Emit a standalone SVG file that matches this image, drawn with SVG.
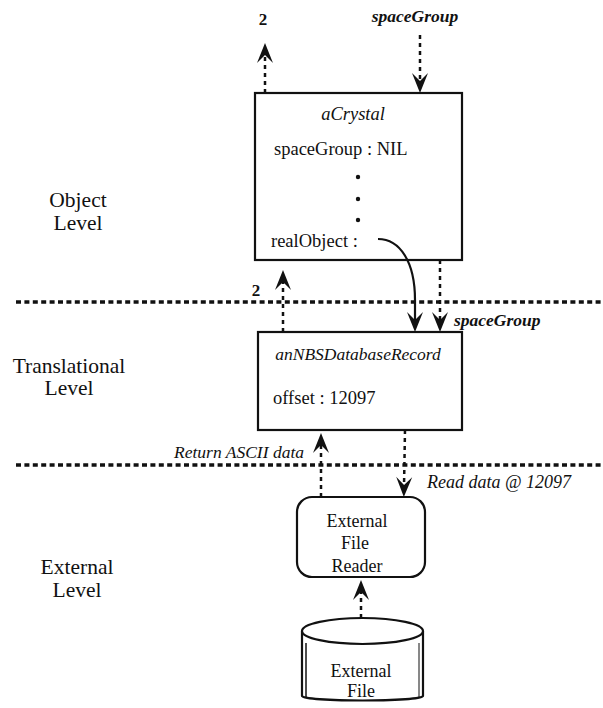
<svg xmlns="http://www.w3.org/2000/svg" width="603" height="708" viewBox="0 0 603 708">
<style>
text{font-family:"Liberation Serif","Times New Roman",serif;fill:#111}
.lvl{font-size:21.5px;text-anchor:middle}
.t{font-size:18.5px}
.it{font-style:italic}
.lab{font-size:17.5px;font-style:italic}
.bl{font-weight:bold}
.box{fill:#fff;stroke:#111;stroke-width:2.2}
.sep{stroke:#111;stroke-width:3.5;stroke-dasharray:5 3.4;fill:none}
.dash{stroke:#111;stroke-width:2.5;stroke-dasharray:4 4;fill:none;marker-end:url(#ah)}
.solid{stroke:#111;stroke-width:2.2;fill:none;marker-end:url(#ah)}
</style>
<defs>
<marker id="ah" viewBox="-21 -10 22 20" markerWidth="22" markerHeight="20" refX="-10" refY="0" orient="auto" markerUnits="userSpaceOnUse">
<path d="M0,0 L-20,-8 L-12,0 L-20,8 Z" fill="#111"/>
</marker>
</defs>
<rect width="603" height="708" fill="#fff"/>
<g id="levels">
<text class="lvl" x="78" y="207">Object</text>
<text class="lvl" x="78" y="230">Level</text>
<text class="lvl" x="69" y="373">Translational</text>
<text class="lvl" x="69" y="395">Level</text>
<text class="lvl" x="77" y="574">External</text>
<text class="lvl" x="77" y="597">Level</text>
</g>
<g id="separators">
<line class="sep" x1="16" y1="302" x2="603" y2="302"/>
<line class="sep" x1="16" y1="465" x2="603" y2="465"/>
</g>
<g id="aCrystal">
<rect class="box" x="255" y="93" width="207" height="167"/>
<text class="t it" x="353" y="120" text-anchor="middle">aCrystal</text>
<text class="t" x="274" y="155">spaceGroup : NIL</text>
<circle cx="358" cy="177" r="2.2" fill="#111"/>
<circle cx="358" cy="199" r="2.2" fill="#111"/>
<circle cx="358" cy="220" r="2.2" fill="#111"/>
<text class="t" x="271" y="247">realObject :</text>
</g>
<g id="anNBSDatabaseRecord">
<rect class="box" x="258" y="332" width="204" height="98"/>
<text class="t it" x="358" y="360" text-anchor="middle" style="font-size:17.5px">anNBSDatabaseRecord</text>
<text class="t" x="273" y="404">offset : 12097</text>
</g>
<g id="externalFileReader">
<rect class="box" x="297" y="497" width="128" height="80" rx="15" ry="15"/>
<text class="t" x="357" y="527" text-anchor="middle" style="font-size:18px">External</text>
<text class="t" x="355" y="549" text-anchor="middle" style="font-size:18px">File</text>
<text class="t" x="357" y="572" text-anchor="middle" style="font-size:18px">Reader</text>
</g>
<g id="externalFile">
<path class="box" d="M302,631 L302,696 A60.5,4.5 0 0 0 423,696 L423,631"/>
<ellipse class="box" cx="362.5" cy="631" rx="60.5" ry="13"/>
<line x1="306" y1="643" x2="306" y2="698" stroke="#111" stroke-width="1.5"/>
<line x1="419" y1="643" x2="419" y2="698" stroke="#111" stroke-width="1"/>
<text class="t" x="361" y="677" text-anchor="middle" style="font-size:18px">External</text>
<text class="t" x="361" y="697" text-anchor="middle" style="font-size:18px">File</text>
</g>
<g id="connectors">
<line class="dash" x1="265" y1="93" x2="265" y2="53"/>
<line class="dash" x1="420" y1="35" x2="420" y2="83"/>
<line class="dash" x1="283" y1="332" x2="283" y2="280"/>
<path class="solid" d="M378,239 C400,239 415,262 415,300 L415,322"/>
<line class="dash" x1="440" y1="260" x2="440" y2="322"/>
<line class="dash" x1="321" y1="497" x2="321" y2="443"/>
<line class="dash" x1="405" y1="430" x2="404" y2="487"/>
<line class="dash" x1="361" y1="618" x2="361" y2="590"/>
<text class="lab bl" x="263" y="25" text-anchor="middle" style="font-style:normal;font-size:17px">2</text>
<text class="lab bl" x="415" y="22" text-anchor="middle">spaceGroup</text>
<text class="lab bl" x="256" y="296" text-anchor="middle" style="font-style:normal;font-size:17px">2</text>
<text class="lab bl" x="454" y="326">spaceGroup</text>
<text class="lab" x="304" y="458" text-anchor="end">Return ASCII data</text>
<text class="lab" x="427" y="488" style="font-size:18px">Read data @ 12097</text>
</g>
</svg>
